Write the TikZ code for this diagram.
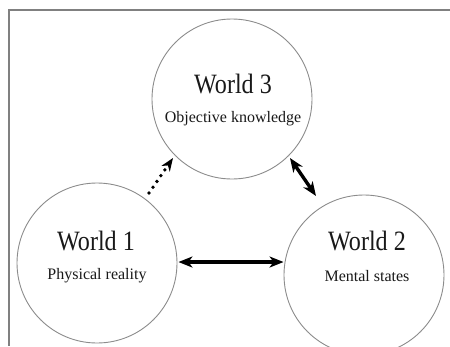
\documentclass[tikz,border=0pt]{standalone}
\usepackage{fontspec}
\setmainfont{Liberation Serif}
\newfontfamily\worldfont[FakeStretch=0.86]{Liberation Serif}
\usetikzlibrary{arrows.meta}
\begin{document}
\begin{tikzpicture}[x=1pt,y=-1pt,
  world/.style={circle, draw=black!45, line width=0.9pt, minimum size=160pt, inner sep=0pt},
  big/.style={font=\worldfont\fontsize{28}{30}\selectfont, text=black!90},
  small/.style={font=\fontsize{16}{18}\selectfont, text=black!90},
  link/.style={line width=3.4pt, {Stealth[length=14pt,width=11pt,inset=4pt]}-{Stealth[length=14pt,width=11pt,inset=4pt]}},
  dotlink/.style={line width=3.8pt, line cap=round, dash pattern=on 0pt off 7pt, -{Stealth[length=13pt,width=10pt,inset=4pt]}}]
\useasboundingbox (0,0) rectangle (450,346);
\fill[white] (0,0) rectangle (450,346);
\coordinate (tl) at (9,10);
\coordinate (tr) at (450,10);
\coordinate (bl) at (9,346);
\draw[black!50, line width=1.4pt] (tr) -- (tl) -- (bl);
\node[world] (w3) at (232,99) {};
\node[world] (w1) at (97,263) {};
\node[world] (w2) at (364,275) {};
\node[big] (t3) at (233,84) {World 3};
\node[small] (s3) at (233,119) {Objective knowledge};
\node[big] (t1) at (96,241) {World 1};
\node[small] (s1) at (97,276) {Physical reality};
\node[big] (t2) at (367,241) {World 2};
\node[small] (s2) at (367,276) {Mental states};
\draw[link] (w1.east) ++(1,-1) coordinate (a1) (a1) -- (w2.west |- a1);
\coordinate (d1) at (149,193);
\coordinate (d2) at (173,158);
\draw[dotlink] (d1) -- (d2);
\coordinate (e1) at (290,158);
\coordinate (e2) at (316,196);
\draw[link] (e1) -- (e2);
\end{tikzpicture}
\end{document}
